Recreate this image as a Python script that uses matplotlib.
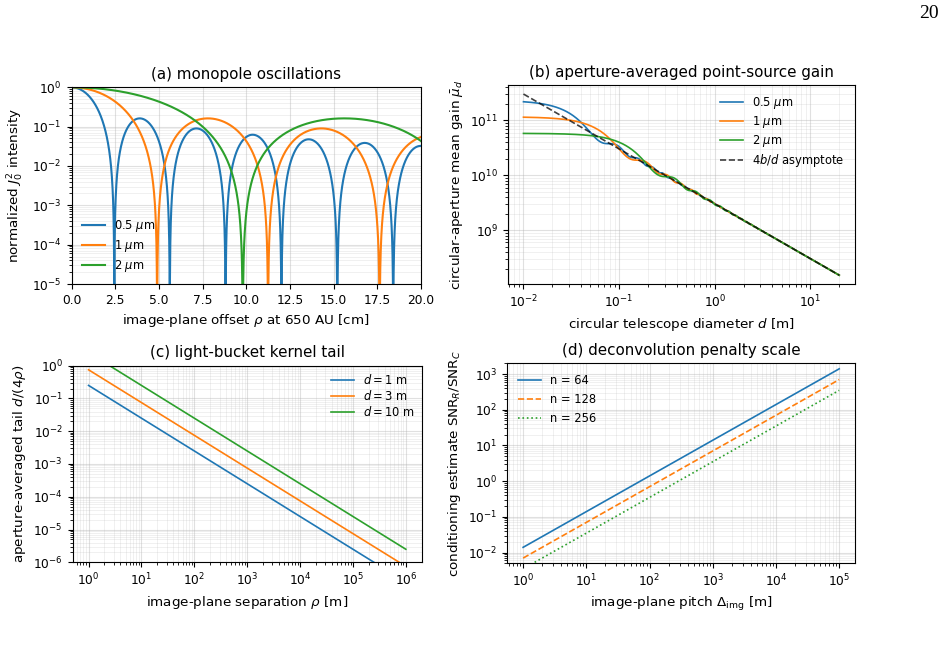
import numpy as np
import matplotlib
matplotlib.use("Agg")
import matplotlib.pyplot as plt

# ---------------- values ----------------
wavelength_labels = [r"0.5 $\mu$m", r"1 $\mu$m", r"2 $\mu$m"]
# (a) position of the first null of J0^2 for each wavelength [cm]
first_null_cm = [2.45, 4.90, 9.80]
rho_max_cm = 20.0
# (b) small-aperture plateau gain (peak gain) per wavelength
peak_gain = [2.33e11, 1.165e11, 5.83e10]
# (b) radial wavenumber at the image plane per wavelength [1/m]
k_per_m = [97.9, 48.95, 24.5]
d_range_m = [0.01, 20.0]
asym_coeff = 3.03e9          # 4b/d evaluated as coeff / d  [m]
# (c) kernel tail d/(4 rho): endpoints
tail_d_labels = [r"$d = 1$ m", r"$d = 3$ m", r"$d = 10$ m"]
tail_rho = [1.0, 1.0e6]
tail_vals = [[0.25, 2.5e-7], [0.75, 7.5e-7], [2.5, 2.5e-6]]
# (d) deconvolution penalty scale: endpoints
pen_labels = ["n = 64", "n = 128", "n = 256"]
pen_x = [1.0, 1.0e5]
pen_vals = [[0.014, 1400.0], [0.007, 700.0], [0.0035, 350.0]]

colors = ["#1f77b4", "#ff7f0e", "#2ca02c"]
TITLE_FS, LABEL_FS, TICK_FS, LEG_FS = 10.9, 9.7, 8.8, 8.3


def bessel(n, x, nt=2001):
    tau = np.linspace(0.0, np.pi, nt)
    vals = np.cos(n * tau[None, :] - np.asarray(x)[:, None] * np.sin(tau[None, :]))
    return np.trapezoid(vals, tau, axis=1) / np.pi


def style(ax):
    ax.grid(True, which="major", color="#b0b0b0", alpha=0.38, linewidth=0.8)
    ax.grid(True, which="minor", color="#b0b0b0", alpha=0.22, linewidth=0.6)
    ax.tick_params(labelsize=TICK_FS)


fig = plt.figure(figsize=(9.45, 6.5), dpi=100)
W, H = 945.0, 650.0


def add_axes(l, t, r, b):
    return fig.add_axes([l / W, 1 - b / H, (r - l) / W, (b - t) / H])


axA = add_axes(71.5, 87.3, 421.0, 284.0)
axB = add_axes(507.7, 85.0, 855.0, 284.3)
axC = add_axes(72.7, 365.7, 421.7, 562.3)
axD = add_axes(507.3, 363.3, 855.0, 563.3)

# ---------------- (a) ----------------
rho = np.linspace(0.0, rho_max_cm, 4001)
for lab, z1, c in zip(wavelength_labels, first_null_cm, colors):
    k = 2.404826 / z1
    y = bessel(0, k * rho, nt=401) ** 2
    axA.semilogy(rho, y, color=c, lw=1.5, label=lab)
axA.set_xlim(0, rho_max_cm)
axA.set_ylim(1e-5, 1.0)
axA.set_title("(a) monopole oscillations", fontsize=TITLE_FS)
axA.set_xlabel(r"image-plane offset $\rho$ at 650 AU [cm]", fontsize=LABEL_FS)
axA.set_ylabel(r"normalized $J_0^2$ intensity", fontsize=LABEL_FS)
axA.legend(loc="lower left", frameon=False, fontsize=LEG_FS, labelspacing=0.32)
style(axA)

# ---------------- (b) ----------------
d = np.logspace(np.log10(d_range_m[0]), np.log10(d_range_m[1]), 700)
for lab, g0, k, c in zip(wavelength_labels, peak_gain, k_per_m, colors):
    x = k * d / 2.0
    mu = g0 * (bessel(0, x) ** 2 + bessel(1, x) ** 2)
    axB.loglog(d, mu, color=c, lw=1.2, label=lab)
axB.loglog(d, asym_coeff / d, ls="--", color="k", alpha=0.75, lw=1.2,
           label=r"$4b/d$ asymptote")
axB.set_title("(b) aperture-averaged point-source gain", fontsize=TITLE_FS)
axB.set_xlabel(r"circular telescope diameter $d$ [m]", fontsize=LABEL_FS)
axB.set_ylabel(r"circular-aperture mean gain $\bar{\mu}_d$", fontsize=LABEL_FS)
axB.legend(loc="upper right", frameon=False, fontsize=LEG_FS, labelspacing=0.25)
style(axB)

# ---------------- (c) ----------------
for lab, v, c in zip(tail_d_labels, tail_vals, colors):
    axC.loglog(tail_rho, v, color=c, lw=1.2, label=lab)
axC.set_ylim(1e-6, 1.0)
axC.set_title("(c) light-bucket kernel tail", fontsize=TITLE_FS)
axC.set_xlabel(r"image-plane separation $\rho$ [m]", fontsize=LABEL_FS)
axC.set_ylabel(r"aperture-averaged tail $d/(4\rho)$", fontsize=LABEL_FS)
axC.legend(loc="upper right", frameon=False, fontsize=LEG_FS, labelspacing=0.2,
           borderaxespad=0.2)
style(axC)

# ---------------- (d) ----------------
for lab, v, c, ls in zip(pen_labels, pen_vals, colors, ["-", "--", ":"]):
    axD.loglog(pen_x, v, color=c, lw=1.2, ls=ls, label=lab)
axD.set_ylim(5e-3, 2e3)
axD.set_title("(d) deconvolution penalty scale", fontsize=TITLE_FS)
axD.set_xlabel(r"image-plane pitch $\Delta_{\mathrm{img}}$ [m]", fontsize=LABEL_FS)
axD.set_ylabel(r"conditioning estimate SNR$_R$/SNR$_C$", fontsize=LABEL_FS)
axD.legend(loc="upper left", frameon=False, fontsize=LEG_FS, labelspacing=0.55)
style(axD)

fig.text(928.7 / W, 1 - 14 / H, "20", family="Liberation Serif", fontsize=14,
         ha="center", va="center")

fig.savefig("out.png", dpi=100)
